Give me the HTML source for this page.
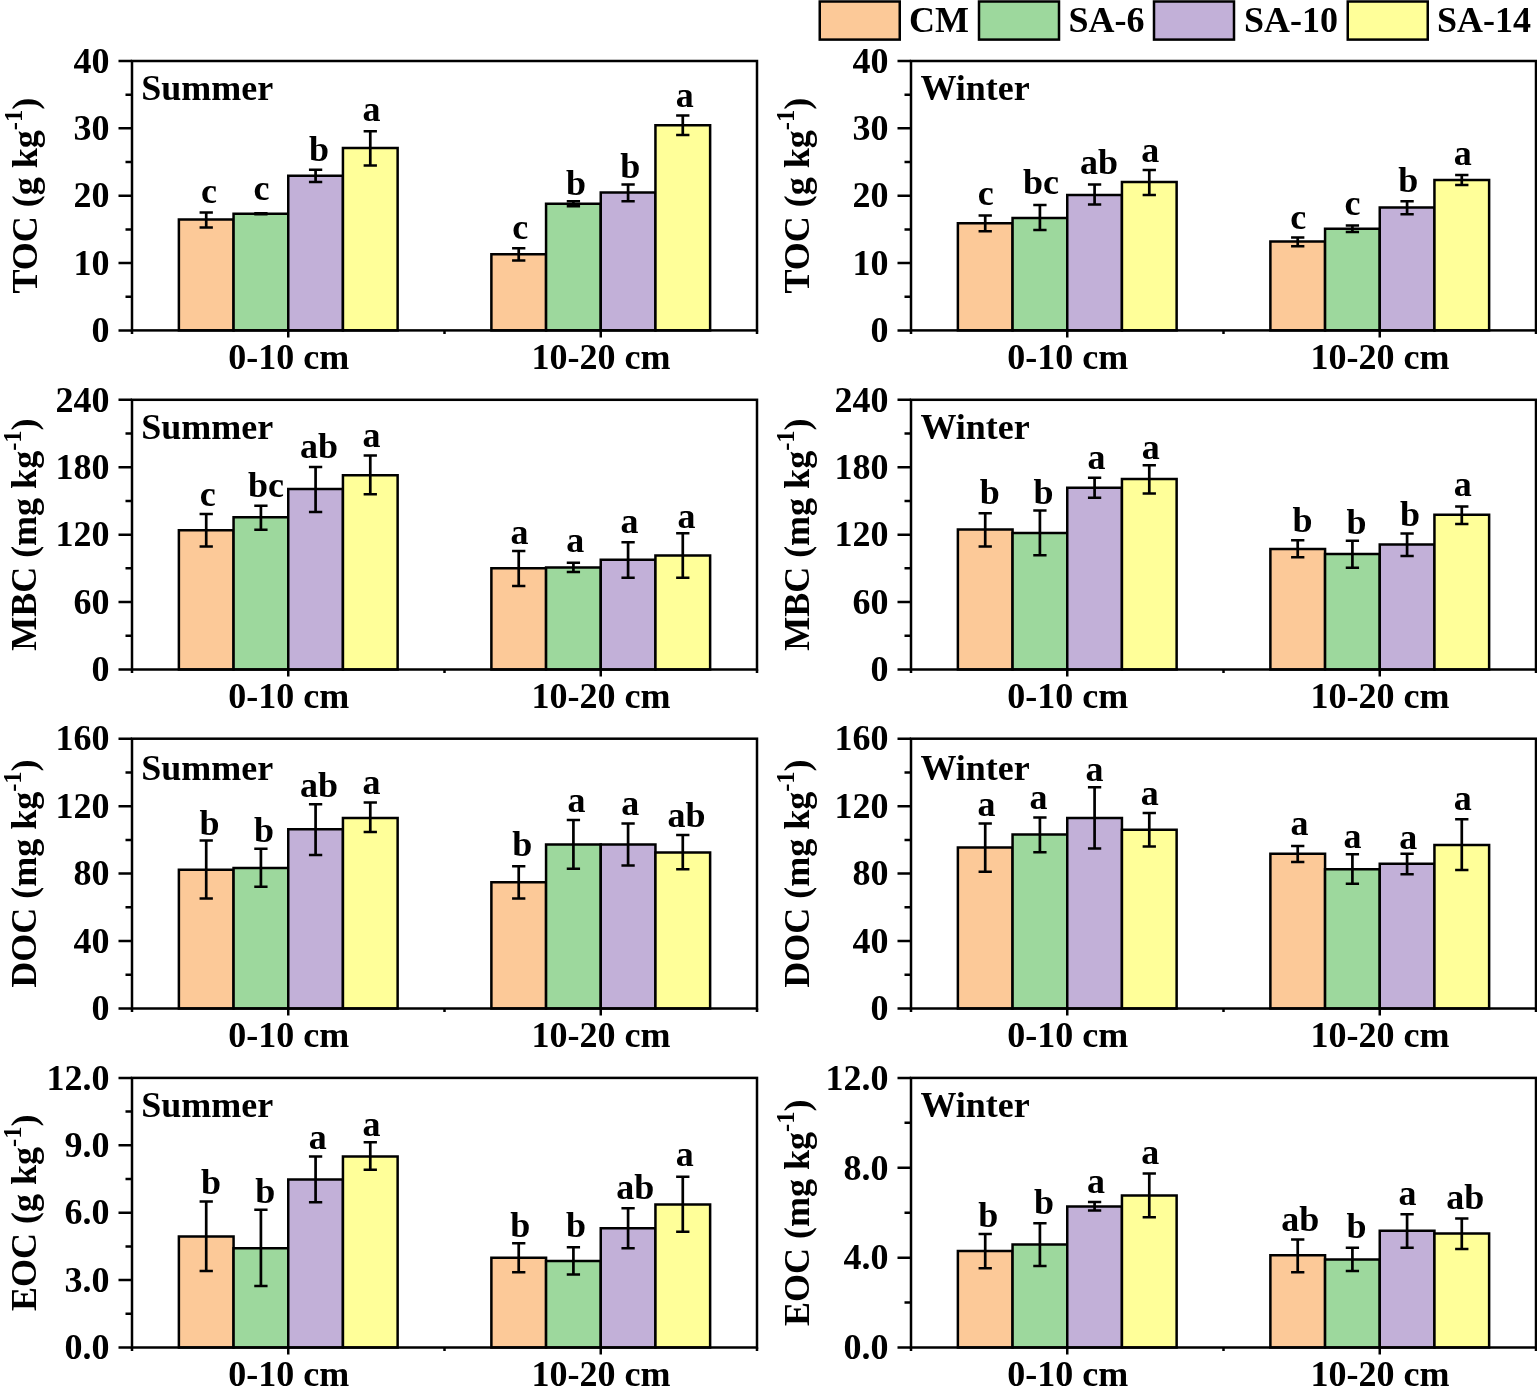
<!DOCTYPE html>
<html lang="en"><head><meta charset="utf-8"><title>Soil organic carbon fractions</title>
<style>html,body{margin:0;padding:0;background:#fff}svg{display:block}</style></head>
<body>
<svg width="1537" height="1398" viewBox="0 0 1537 1398" font-family='"Liberation Serif", "Times New Roman", serif' font-weight="bold" font-size="36" fill="#000">
<rect x="0" y="0" width="1537" height="1398" fill="#fff"/>
<rect x="819.75" y="1.5" width="80" height="38.1" fill="#FCC998" stroke="#000" stroke-width="2.5"/>
<text x="909" y="32">CM</text>
<rect x="979" y="1.5" width="80" height="38.1" fill="#9DD89D" stroke="#000" stroke-width="2.5"/>
<text x="1068.5" y="32">SA-6</text>
<rect x="1154" y="1.5" width="80" height="38.1" fill="#C2B0D8" stroke="#000" stroke-width="2.5"/>
<text x="1244" y="32">SA-10</text>
<rect x="1347.75" y="1.5" width="80" height="38.1" fill="#FFFF99" stroke="#000" stroke-width="2.5"/>
<text x="1437" y="32">SA-14</text>
<g>
<rect x="178.88" y="219.5" width="54.69" height="110.9" fill="#FCC998" stroke="#000" stroke-width="2.5"/>
<rect x="233.56" y="213.75" width="54.69" height="116.65" fill="#9DD89D" stroke="#000" stroke-width="2.5"/>
<rect x="288.25" y="175.75" width="54.69" height="154.65" fill="#C2B0D8" stroke="#000" stroke-width="2.5"/>
<rect x="342.94" y="148" width="54.69" height="182.4" fill="#FFFF99" stroke="#000" stroke-width="2.5"/>
<rect x="491.38" y="254.25" width="54.69" height="76.15" fill="#FCC998" stroke="#000" stroke-width="2.5"/>
<rect x="546.06" y="203.75" width="54.69" height="126.65" fill="#9DD89D" stroke="#000" stroke-width="2.5"/>
<rect x="600.75" y="192.5" width="54.69" height="137.9" fill="#C2B0D8" stroke="#000" stroke-width="2.5"/>
<rect x="655.44" y="125.25" width="54.69" height="205.15" fill="#FFFF99" stroke="#000" stroke-width="2.5"/>
<path d="M206.22 212.5V227.5M199.57 212.5H212.87M199.57 227.5H212.87" fill="none" stroke="#000" stroke-width="2.7"/>
<text x="209.05" y="203" text-anchor="middle">c</text>
<path d="M260.91 213.25V214.25M254.26 213.25H267.56M254.26 214.25H267.56" fill="none" stroke="#000" stroke-width="2.7"/>
<text x="261.55" y="200" text-anchor="middle">c</text>
<path d="M315.59 169.75V182M308.94 169.75H322.24M308.94 182H322.24" fill="none" stroke="#000" stroke-width="2.7"/>
<text x="319.05" y="161" text-anchor="middle">b</text>
<path d="M370.28 131.25V165.5M363.63 131.25H376.93M363.63 165.5H376.93" fill="none" stroke="#000" stroke-width="2.7"/>
<text x="371.55" y="121" text-anchor="middle">a</text>
<path d="M518.72 248.25V260.5M512.07 248.25H525.37M512.07 260.5H525.37" fill="none" stroke="#000" stroke-width="2.7"/>
<text x="520.3" y="239" text-anchor="middle">c</text>
<path d="M573.41 201.25V206.25M566.76 201.25H580.06M566.76 206.25H580.06" fill="none" stroke="#000" stroke-width="2.7"/>
<text x="576.05" y="194.75" text-anchor="middle">b</text>
<path d="M628.09 184.5V201.25M621.44 184.5H634.74M621.44 201.25H634.74" fill="none" stroke="#000" stroke-width="2.7"/>
<text x="630.3" y="178" text-anchor="middle">b</text>
<path d="M682.78 115.5V135M676.13 115.5H689.43M676.13 135H689.43" fill="none" stroke="#000" stroke-width="2.7"/>
<text x="684.8" y="107.25" text-anchor="middle">a</text>
<rect x="132" y="61" width="625" height="269.4" fill="none" stroke="#000" stroke-width="2.5"/>
<text x="109.5" y="342.15" text-anchor="end">0</text>
<text x="109.5" y="274.8" text-anchor="end">10</text>
<text x="109.5" y="207.45" text-anchor="end">20</text>
<text x="109.5" y="140.1" text-anchor="end">30</text>
<text x="109.5" y="72.75" text-anchor="end">40</text>
<path d="M118.5 330.4H132M125.5 296.72H132M118.5 263.05H132M125.5 229.38H132M118.5 195.7H132M125.5 162.02H132M118.5 128.35H132M125.5 94.68H132M118.5 61H132M288.25 330.4V337.4M600.75 330.4V337.4M132 330.4V333.9M444.5 330.4V333.9M757 330.4V333.9" fill="none" stroke="#000" stroke-width="2.5"/>
<text x="288.75" y="368.65" text-anchor="middle">0-10 cm</text>
<text x="600.95" y="368.65" text-anchor="middle">10-20 cm</text>
<text x="141.2" y="100.4">Summer</text>
<text transform="translate(36.5 195.7) rotate(-90)" text-anchor="middle">TOC (g kg<tspan font-size="24.5" dy="-15">-1</tspan><tspan dy="15">)</tspan></text>
</g>
<g>
<rect x="957.88" y="223.25" width="54.69" height="107.15" fill="#FCC998" stroke="#000" stroke-width="2.5"/>
<rect x="1012.56" y="218" width="54.69" height="112.4" fill="#9DD89D" stroke="#000" stroke-width="2.5"/>
<rect x="1067.25" y="195" width="54.69" height="135.4" fill="#C2B0D8" stroke="#000" stroke-width="2.5"/>
<rect x="1121.94" y="182" width="54.69" height="148.4" fill="#FFFF99" stroke="#000" stroke-width="2.5"/>
<rect x="1270.38" y="241.5" width="54.69" height="88.9" fill="#FCC998" stroke="#000" stroke-width="2.5"/>
<rect x="1325.06" y="228.75" width="54.69" height="101.65" fill="#9DD89D" stroke="#000" stroke-width="2.5"/>
<rect x="1379.75" y="207.5" width="54.69" height="122.9" fill="#C2B0D8" stroke="#000" stroke-width="2.5"/>
<rect x="1434.44" y="180" width="54.69" height="150.4" fill="#FFFF99" stroke="#000" stroke-width="2.5"/>
<path d="M985.22 215.5V231.25M978.57 215.5H991.87M978.57 231.25H991.87" fill="none" stroke="#000" stroke-width="2.7"/>
<text x="985.8" y="204.75" text-anchor="middle">c</text>
<path d="M1039.91 205V230M1033.26 205H1046.56M1033.26 230H1046.56" fill="none" stroke="#000" stroke-width="2.7"/>
<text x="1041.05" y="194" text-anchor="middle">bc</text>
<path d="M1094.59 184.5V204.5M1087.94 184.5H1101.24M1087.94 204.5H1101.24" fill="none" stroke="#000" stroke-width="2.7"/>
<text x="1099.05" y="174.25" text-anchor="middle">ab</text>
<path d="M1149.28 170V195M1142.63 170H1155.93M1142.63 195H1155.93" fill="none" stroke="#000" stroke-width="2.7"/>
<text x="1150.3" y="162.25" text-anchor="middle">a</text>
<path d="M1297.72 237.5V246.25M1291.07 237.5H1304.37M1291.07 246.25H1304.37" fill="none" stroke="#000" stroke-width="2.7"/>
<text x="1298.3" y="229" text-anchor="middle">c</text>
<path d="M1352.41 225.5V232M1345.76 225.5H1359.06M1345.76 232H1359.06" fill="none" stroke="#000" stroke-width="2.7"/>
<text x="1352.55" y="215.25" text-anchor="middle">c</text>
<path d="M1407.09 201.25V214.25M1400.44 201.25H1413.74M1400.44 214.25H1413.74" fill="none" stroke="#000" stroke-width="2.7"/>
<text x="1408.3" y="191.5" text-anchor="middle">b</text>
<path d="M1461.78 175V185M1455.13 175H1468.43M1455.13 185H1468.43" fill="none" stroke="#000" stroke-width="2.7"/>
<text x="1462.8" y="165.25" text-anchor="middle">a</text>
<rect x="911" y="61" width="625" height="269.4" fill="none" stroke="#000" stroke-width="2.5"/>
<text x="888.5" y="342.15" text-anchor="end">0</text>
<text x="888.5" y="274.8" text-anchor="end">10</text>
<text x="888.5" y="207.45" text-anchor="end">20</text>
<text x="888.5" y="140.1" text-anchor="end">30</text>
<text x="888.5" y="72.75" text-anchor="end">40</text>
<path d="M897.5 330.4H911M904.5 296.72H911M897.5 263.05H911M904.5 229.38H911M897.5 195.7H911M904.5 162.02H911M897.5 128.35H911M904.5 94.68H911M897.5 61H911M1067.25 330.4V337.4M1379.75 330.4V337.4M911 330.4V333.9M1223.5 330.4V333.9M1536 330.4V333.9" fill="none" stroke="#000" stroke-width="2.5"/>
<text x="1067.75" y="368.65" text-anchor="middle">0-10 cm</text>
<text x="1379.95" y="368.65" text-anchor="middle">10-20 cm</text>
<text x="920.5" y="100.4">Winter</text>
<text transform="translate(808.75 195.7) rotate(-90)" text-anchor="middle">TOC (g kg<tspan font-size="24.5" dy="-15">-1</tspan><tspan dy="15">)</tspan></text>
</g>
<g>
<rect x="178.88" y="530.25" width="54.69" height="139.25" fill="#FCC998" stroke="#000" stroke-width="2.5"/>
<rect x="233.56" y="517.25" width="54.69" height="152.25" fill="#9DD89D" stroke="#000" stroke-width="2.5"/>
<rect x="288.25" y="489" width="54.69" height="180.5" fill="#C2B0D8" stroke="#000" stroke-width="2.5"/>
<rect x="342.94" y="475.25" width="54.69" height="194.25" fill="#FFFF99" stroke="#000" stroke-width="2.5"/>
<rect x="491.38" y="568.25" width="54.69" height="101.25" fill="#FCC998" stroke="#000" stroke-width="2.5"/>
<rect x="546.06" y="567.5" width="54.69" height="102" fill="#9DD89D" stroke="#000" stroke-width="2.5"/>
<rect x="600.75" y="559.75" width="54.69" height="109.75" fill="#C2B0D8" stroke="#000" stroke-width="2.5"/>
<rect x="655.44" y="555.5" width="54.69" height="114" fill="#FFFF99" stroke="#000" stroke-width="2.5"/>
<path d="M206.22 514V546.5M199.57 514H212.87M199.57 546.5H212.87" fill="none" stroke="#000" stroke-width="2.7"/>
<text x="207.8" y="506.25" text-anchor="middle">c</text>
<path d="M260.91 505.75V529.75M254.26 505.75H267.56M254.26 529.75H267.56" fill="none" stroke="#000" stroke-width="2.7"/>
<text x="266.05" y="496.75" text-anchor="middle">bc</text>
<path d="M315.59 467V512M308.94 467H322.24M308.94 512H322.24" fill="none" stroke="#000" stroke-width="2.7"/>
<text x="319.05" y="458.25" text-anchor="middle">ab</text>
<path d="M370.28 455.5V494.25M363.63 455.5H376.93M363.63 494.25H376.93" fill="none" stroke="#000" stroke-width="2.7"/>
<text x="371.55" y="447" text-anchor="middle">a</text>
<path d="M518.72 551V586M512.07 551H525.37M512.07 586H525.37" fill="none" stroke="#000" stroke-width="2.7"/>
<text x="519.55" y="543.75" text-anchor="middle">a</text>
<path d="M573.41 562.75V572M566.76 562.75H580.06M566.76 572H580.06" fill="none" stroke="#000" stroke-width="2.7"/>
<text x="575.3" y="552" text-anchor="middle">a</text>
<path d="M628.09 542.25V577.75M621.44 542.25H634.74M621.44 577.75H634.74" fill="none" stroke="#000" stroke-width="2.7"/>
<text x="629.55" y="533" text-anchor="middle">a</text>
<path d="M682.78 533.25V577.75M676.13 533.25H689.43M676.13 577.75H689.43" fill="none" stroke="#000" stroke-width="2.7"/>
<text x="686.55" y="528" text-anchor="middle">a</text>
<rect x="132" y="399.8" width="625" height="269.7" fill="none" stroke="#000" stroke-width="2.5"/>
<text x="109.5" y="681.25" text-anchor="end">0</text>
<text x="109.5" y="613.83" text-anchor="end">60</text>
<text x="109.5" y="546.4" text-anchor="end">120</text>
<text x="109.5" y="478.98" text-anchor="end">180</text>
<text x="109.5" y="411.55" text-anchor="end">240</text>
<path d="M118.5 669.5H132M125.5 635.79H132M118.5 602.08H132M125.5 568.36H132M118.5 534.65H132M125.5 500.94H132M118.5 467.23H132M125.5 433.51H132M118.5 399.8H132M288.25 669.5V676.5M600.75 669.5V676.5M132 669.5V673M444.5 669.5V673M757 669.5V673" fill="none" stroke="#000" stroke-width="2.5"/>
<text x="288.75" y="707.75" text-anchor="middle">0-10 cm</text>
<text x="600.95" y="707.75" text-anchor="middle">10-20 cm</text>
<text x="141.2" y="439.4">Summer</text>
<text transform="translate(35.5 534.65) rotate(-90)" text-anchor="middle">MBC (mg kg<tspan font-size="24.5" dy="-15">-1</tspan><tspan dy="15">)</tspan></text>
</g>
<g>
<rect x="957.88" y="529.5" width="54.69" height="140" fill="#FCC998" stroke="#000" stroke-width="2.5"/>
<rect x="1012.56" y="533" width="54.69" height="136.5" fill="#9DD89D" stroke="#000" stroke-width="2.5"/>
<rect x="1067.25" y="487.75" width="54.69" height="181.75" fill="#C2B0D8" stroke="#000" stroke-width="2.5"/>
<rect x="1121.94" y="479" width="54.69" height="190.5" fill="#FFFF99" stroke="#000" stroke-width="2.5"/>
<rect x="1270.38" y="549" width="54.69" height="120.5" fill="#FCC998" stroke="#000" stroke-width="2.5"/>
<rect x="1325.06" y="554" width="54.69" height="115.5" fill="#9DD89D" stroke="#000" stroke-width="2.5"/>
<rect x="1379.75" y="544.5" width="54.69" height="125" fill="#C2B0D8" stroke="#000" stroke-width="2.5"/>
<rect x="1434.44" y="514.75" width="54.69" height="154.75" fill="#FFFF99" stroke="#000" stroke-width="2.5"/>
<path d="M985.22 513.25V546.5M978.57 513.25H991.87M978.57 546.5H991.87" fill="none" stroke="#000" stroke-width="2.7"/>
<text x="989.8" y="503.75" text-anchor="middle">b</text>
<path d="M1039.91 510.5V555.25M1033.26 510.5H1046.56M1033.26 555.25H1046.56" fill="none" stroke="#000" stroke-width="2.7"/>
<text x="1043.55" y="503.75" text-anchor="middle">b</text>
<path d="M1094.59 477.75V497.75M1087.94 477.75H1101.24M1087.94 497.75H1101.24" fill="none" stroke="#000" stroke-width="2.7"/>
<text x="1096.55" y="469.25" text-anchor="middle">a</text>
<path d="M1149.28 465.25V493.5M1142.63 465.25H1155.93M1142.63 493.5H1155.93" fill="none" stroke="#000" stroke-width="2.7"/>
<text x="1150.8" y="458.75" text-anchor="middle">a</text>
<path d="M1297.72 540.25V557.25M1291.07 540.25H1304.37M1291.07 557.25H1304.37" fill="none" stroke="#000" stroke-width="2.7"/>
<text x="1302.55" y="531.75" text-anchor="middle">b</text>
<path d="M1352.41 540.75V567.75M1345.76 540.75H1359.06M1345.76 567.75H1359.06" fill="none" stroke="#000" stroke-width="2.7"/>
<text x="1356.55" y="533.75" text-anchor="middle">b</text>
<path d="M1407.09 533.5V556M1400.44 533.5H1413.74M1400.44 556H1413.74" fill="none" stroke="#000" stroke-width="2.7"/>
<text x="1410.05" y="526.25" text-anchor="middle">b</text>
<path d="M1461.78 506.5V524M1455.13 506.5H1468.43M1455.13 524H1468.43" fill="none" stroke="#000" stroke-width="2.7"/>
<text x="1462.8" y="496.25" text-anchor="middle">a</text>
<rect x="911" y="399.8" width="625" height="269.7" fill="none" stroke="#000" stroke-width="2.5"/>
<text x="888.5" y="681.25" text-anchor="end">0</text>
<text x="888.5" y="613.83" text-anchor="end">60</text>
<text x="888.5" y="546.4" text-anchor="end">120</text>
<text x="888.5" y="478.98" text-anchor="end">180</text>
<text x="888.5" y="411.55" text-anchor="end">240</text>
<path d="M897.5 669.5H911M904.5 635.79H911M897.5 602.08H911M904.5 568.36H911M897.5 534.65H911M904.5 500.94H911M897.5 467.23H911M904.5 433.51H911M897.5 399.8H911M1067.25 669.5V676.5M1379.75 669.5V676.5M911 669.5V673M1223.5 669.5V673M1536 669.5V673" fill="none" stroke="#000" stroke-width="2.5"/>
<text x="1067.75" y="707.75" text-anchor="middle">0-10 cm</text>
<text x="1379.95" y="707.75" text-anchor="middle">10-20 cm</text>
<text x="920.5" y="439.4">Winter</text>
<text transform="translate(808.75 534.65) rotate(-90)" text-anchor="middle">MBC (mg kg<tspan font-size="24.5" dy="-15">-1</tspan><tspan dy="15">)</tspan></text>
</g>
<g>
<rect x="178.88" y="869.75" width="54.69" height="138.75" fill="#FCC998" stroke="#000" stroke-width="2.5"/>
<rect x="233.56" y="868" width="54.69" height="140.5" fill="#9DD89D" stroke="#000" stroke-width="2.5"/>
<rect x="288.25" y="829.25" width="54.69" height="179.25" fill="#C2B0D8" stroke="#000" stroke-width="2.5"/>
<rect x="342.94" y="818" width="54.69" height="190.5" fill="#FFFF99" stroke="#000" stroke-width="2.5"/>
<rect x="491.38" y="882.25" width="54.69" height="126.25" fill="#FCC998" stroke="#000" stroke-width="2.5"/>
<rect x="546.06" y="844.5" width="54.69" height="164" fill="#9DD89D" stroke="#000" stroke-width="2.5"/>
<rect x="600.75" y="844.5" width="54.69" height="164" fill="#C2B0D8" stroke="#000" stroke-width="2.5"/>
<rect x="655.44" y="852.5" width="54.69" height="156" fill="#FFFF99" stroke="#000" stroke-width="2.5"/>
<path d="M206.22 840.5V898.5M199.57 840.5H212.87M199.57 898.5H212.87" fill="none" stroke="#000" stroke-width="2.7"/>
<text x="209.55" y="834.75" text-anchor="middle">b</text>
<path d="M260.91 848.75V886.75M254.26 848.75H267.56M254.26 886.75H267.56" fill="none" stroke="#000" stroke-width="2.7"/>
<text x="264.05" y="841.5" text-anchor="middle">b</text>
<path d="M315.59 804.25V855M308.94 804.25H322.24M308.94 855H322.24" fill="none" stroke="#000" stroke-width="2.7"/>
<text x="319.05" y="797.25" text-anchor="middle">ab</text>
<path d="M370.28 802.5V832M363.63 802.5H376.93M363.63 832H376.93" fill="none" stroke="#000" stroke-width="2.7"/>
<text x="371.55" y="793.5" text-anchor="middle">a</text>
<path d="M518.72 866.25V898.5M512.07 866.25H525.37M512.07 898.5H525.37" fill="none" stroke="#000" stroke-width="2.7"/>
<text x="522.3" y="855.75" text-anchor="middle">b</text>
<path d="M573.41 820V868.75M566.76 820H580.06M566.76 868.75H580.06" fill="none" stroke="#000" stroke-width="2.7"/>
<text x="576.55" y="811.5" text-anchor="middle">a</text>
<path d="M628.09 823.5V865.5M621.44 823.5H634.74M621.44 865.5H634.74" fill="none" stroke="#000" stroke-width="2.7"/>
<text x="630.3" y="814.75" text-anchor="middle">a</text>
<path d="M682.78 835V869.25M676.13 835H689.43M676.13 869.25H689.43" fill="none" stroke="#000" stroke-width="2.7"/>
<text x="686.55" y="826.5" text-anchor="middle">ab</text>
<rect x="132" y="738.7" width="625" height="269.8" fill="none" stroke="#000" stroke-width="2.5"/>
<text x="109.5" y="1020.25" text-anchor="end">0</text>
<text x="109.5" y="952.8" text-anchor="end">40</text>
<text x="109.5" y="885.35" text-anchor="end">80</text>
<text x="109.5" y="817.9" text-anchor="end">120</text>
<text x="109.5" y="750.45" text-anchor="end">160</text>
<path d="M118.5 1008.5H132M125.5 974.77H132M118.5 941.05H132M125.5 907.33H132M118.5 873.6H132M125.5 839.88H132M118.5 806.15H132M125.5 772.43H132M118.5 738.7H132M288.25 1008.5V1015.5M600.75 1008.5V1015.5M132 1008.5V1012M444.5 1008.5V1012M757 1008.5V1012" fill="none" stroke="#000" stroke-width="2.5"/>
<text x="288.75" y="1046.75" text-anchor="middle">0-10 cm</text>
<text x="600.95" y="1046.75" text-anchor="middle">10-20 cm</text>
<text x="141.2" y="779.65">Summer</text>
<text transform="translate(35.5 873.6) rotate(-90)" text-anchor="middle">DOC (mg kg<tspan font-size="24.5" dy="-15">-1</tspan><tspan dy="15">)</tspan></text>
</g>
<g>
<rect x="957.88" y="847.5" width="54.69" height="161" fill="#FCC998" stroke="#000" stroke-width="2.5"/>
<rect x="1012.56" y="834.5" width="54.69" height="174" fill="#9DD89D" stroke="#000" stroke-width="2.5"/>
<rect x="1067.25" y="818" width="54.69" height="190.5" fill="#C2B0D8" stroke="#000" stroke-width="2.5"/>
<rect x="1121.94" y="829.75" width="54.69" height="178.75" fill="#FFFF99" stroke="#000" stroke-width="2.5"/>
<rect x="1270.38" y="853.75" width="54.69" height="154.75" fill="#FCC998" stroke="#000" stroke-width="2.5"/>
<rect x="1325.06" y="869.25" width="54.69" height="139.25" fill="#9DD89D" stroke="#000" stroke-width="2.5"/>
<rect x="1379.75" y="863.75" width="54.69" height="144.75" fill="#C2B0D8" stroke="#000" stroke-width="2.5"/>
<rect x="1434.44" y="845" width="54.69" height="163.5" fill="#FFFF99" stroke="#000" stroke-width="2.5"/>
<path d="M985.22 823.5V871.75M978.57 823.5H991.87M978.57 871.75H991.87" fill="none" stroke="#000" stroke-width="2.7"/>
<text x="986.55" y="816" text-anchor="middle">a</text>
<path d="M1039.91 817.5V852.25M1033.26 817.5H1046.56M1033.26 852.25H1046.56" fill="none" stroke="#000" stroke-width="2.7"/>
<text x="1038.55" y="809" text-anchor="middle">a</text>
<path d="M1094.59 787.25V848.5M1087.94 787.25H1101.24M1087.94 848.5H1101.24" fill="none" stroke="#000" stroke-width="2.7"/>
<text x="1094.55" y="780.75" text-anchor="middle">a</text>
<path d="M1149.28 813V846.5M1142.63 813H1155.93M1142.63 846.5H1155.93" fill="none" stroke="#000" stroke-width="2.7"/>
<text x="1149.8" y="804.75" text-anchor="middle">a</text>
<path d="M1297.72 846V862M1291.07 846H1304.37M1291.07 862H1304.37" fill="none" stroke="#000" stroke-width="2.7"/>
<text x="1299.55" y="835.25" text-anchor="middle">a</text>
<path d="M1352.41 854.25V883.75M1345.76 854.25H1359.06M1345.76 883.75H1359.06" fill="none" stroke="#000" stroke-width="2.7"/>
<text x="1352.55" y="847.75" text-anchor="middle">a</text>
<path d="M1407.09 853.75V874.25M1400.44 853.75H1413.74M1400.44 874.25H1413.74" fill="none" stroke="#000" stroke-width="2.7"/>
<text x="1408.3" y="849" text-anchor="middle">a</text>
<path d="M1461.78 819.25V870M1455.13 819.25H1468.43M1455.13 870H1468.43" fill="none" stroke="#000" stroke-width="2.7"/>
<text x="1462.8" y="810.25" text-anchor="middle">a</text>
<rect x="911" y="738.7" width="625" height="269.8" fill="none" stroke="#000" stroke-width="2.5"/>
<text x="888.5" y="1020.25" text-anchor="end">0</text>
<text x="888.5" y="952.8" text-anchor="end">40</text>
<text x="888.5" y="885.35" text-anchor="end">80</text>
<text x="888.5" y="817.9" text-anchor="end">120</text>
<text x="888.5" y="750.45" text-anchor="end">160</text>
<path d="M897.5 1008.5H911M904.5 974.77H911M897.5 941.05H911M904.5 907.33H911M897.5 873.6H911M904.5 839.88H911M897.5 806.15H911M904.5 772.43H911M897.5 738.7H911M1067.25 1008.5V1015.5M1379.75 1008.5V1015.5M911 1008.5V1012M1223.5 1008.5V1012M1536 1008.5V1012" fill="none" stroke="#000" stroke-width="2.5"/>
<text x="1067.75" y="1046.75" text-anchor="middle">0-10 cm</text>
<text x="1379.95" y="1046.75" text-anchor="middle">10-20 cm</text>
<text x="920.5" y="779.65">Winter</text>
<text transform="translate(808.75 873.6) rotate(-90)" text-anchor="middle">DOC (mg kg<tspan font-size="24.5" dy="-15">-1</tspan><tspan dy="15">)</tspan></text>
</g>
<g>
<rect x="178.88" y="1236.5" width="54.69" height="111" fill="#FCC998" stroke="#000" stroke-width="2.5"/>
<rect x="233.56" y="1248.25" width="54.69" height="99.25" fill="#9DD89D" stroke="#000" stroke-width="2.5"/>
<rect x="288.25" y="1179.5" width="54.69" height="168" fill="#C2B0D8" stroke="#000" stroke-width="2.5"/>
<rect x="342.94" y="1156.5" width="54.69" height="191" fill="#FFFF99" stroke="#000" stroke-width="2.5"/>
<rect x="491.38" y="1257.75" width="54.69" height="89.75" fill="#FCC998" stroke="#000" stroke-width="2.5"/>
<rect x="546.06" y="1261" width="54.69" height="86.5" fill="#9DD89D" stroke="#000" stroke-width="2.5"/>
<rect x="600.75" y="1228.25" width="54.69" height="119.25" fill="#C2B0D8" stroke="#000" stroke-width="2.5"/>
<rect x="655.44" y="1204.5" width="54.69" height="143" fill="#FFFF99" stroke="#000" stroke-width="2.5"/>
<path d="M206.22 1201.5V1271M199.57 1201.5H212.87M199.57 1271H212.87" fill="none" stroke="#000" stroke-width="2.7"/>
<text x="211.05" y="1194.25" text-anchor="middle">b</text>
<path d="M260.91 1209.75V1286M254.26 1209.75H267.56M254.26 1286H267.56" fill="none" stroke="#000" stroke-width="2.7"/>
<text x="265.3" y="1202.5" text-anchor="middle">b</text>
<path d="M315.59 1156.5V1202.25M308.94 1156.5H322.24M308.94 1202.25H322.24" fill="none" stroke="#000" stroke-width="2.7"/>
<text x="317.8" y="1148.75" text-anchor="middle">a</text>
<path d="M370.28 1142.25V1169.75M363.63 1142.25H376.93M363.63 1169.75H376.93" fill="none" stroke="#000" stroke-width="2.7"/>
<text x="371.55" y="1135.75" text-anchor="middle">a</text>
<path d="M518.72 1243.25V1272.25M512.07 1243.25H525.37M512.07 1272.25H525.37" fill="none" stroke="#000" stroke-width="2.7"/>
<text x="520.3" y="1236.75" text-anchor="middle">b</text>
<path d="M573.41 1247.25V1274.5M566.76 1247.25H580.06M566.76 1274.5H580.06" fill="none" stroke="#000" stroke-width="2.7"/>
<text x="576.05" y="1236.75" text-anchor="middle">b</text>
<path d="M628.09 1208.25V1248.25M621.44 1208.25H634.74M621.44 1248.25H634.74" fill="none" stroke="#000" stroke-width="2.7"/>
<text x="635.3" y="1199.25" text-anchor="middle">ab</text>
<path d="M682.78 1176.75V1231.75M676.13 1176.75H689.43M676.13 1231.75H689.43" fill="none" stroke="#000" stroke-width="2.7"/>
<text x="684.8" y="1166.25" text-anchor="middle">a</text>
<rect x="132" y="1077.9" width="625" height="269.6" fill="none" stroke="#000" stroke-width="2.5"/>
<text x="109.5" y="1359.25" text-anchor="end">0.0</text>
<text x="109.5" y="1291.85" text-anchor="end">3.0</text>
<text x="109.5" y="1224.45" text-anchor="end">6.0</text>
<text x="109.5" y="1157.05" text-anchor="end">9.0</text>
<text x="109.5" y="1089.65" text-anchor="end">12.0</text>
<path d="M118.5 1347.5H132M125.5 1313.8H132M118.5 1280.1H132M125.5 1246.4H132M118.5 1212.7H132M125.5 1179H132M118.5 1145.3H132M125.5 1111.6H132M118.5 1077.9H132M288.25 1347.5V1354.5M600.75 1347.5V1354.5M132 1347.5V1351M444.5 1347.5V1351M757 1347.5V1351" fill="none" stroke="#000" stroke-width="2.5"/>
<text x="288.75" y="1385.75" text-anchor="middle">0-10 cm</text>
<text x="600.95" y="1385.75" text-anchor="middle">10-20 cm</text>
<text x="141.2" y="1117.4">Summer</text>
<text transform="translate(35.5 1212.7) rotate(-90)" text-anchor="middle">EOC (g kg<tspan font-size="24.5" dy="-15">-1</tspan><tspan dy="15">)</tspan></text>
</g>
<g>
<rect x="957.88" y="1251" width="54.69" height="96.5" fill="#FCC998" stroke="#000" stroke-width="2.5"/>
<rect x="1012.56" y="1244.5" width="54.69" height="103" fill="#9DD89D" stroke="#000" stroke-width="2.5"/>
<rect x="1067.25" y="1206.5" width="54.69" height="141" fill="#C2B0D8" stroke="#000" stroke-width="2.5"/>
<rect x="1121.94" y="1195.5" width="54.69" height="152" fill="#FFFF99" stroke="#000" stroke-width="2.5"/>
<rect x="1270.38" y="1255.25" width="54.69" height="92.25" fill="#FCC998" stroke="#000" stroke-width="2.5"/>
<rect x="1325.06" y="1259.5" width="54.69" height="88" fill="#9DD89D" stroke="#000" stroke-width="2.5"/>
<rect x="1379.75" y="1230.75" width="54.69" height="116.75" fill="#C2B0D8" stroke="#000" stroke-width="2.5"/>
<rect x="1434.44" y="1233.5" width="54.69" height="114" fill="#FFFF99" stroke="#000" stroke-width="2.5"/>
<path d="M985.22 1234V1268.25M978.57 1234H991.87M978.57 1268.25H991.87" fill="none" stroke="#000" stroke-width="2.7"/>
<text x="988.3" y="1227" text-anchor="middle">b</text>
<path d="M1039.91 1223.25V1266M1033.26 1223.25H1046.56M1033.26 1266H1046.56" fill="none" stroke="#000" stroke-width="2.7"/>
<text x="1044.05" y="1214.25" text-anchor="middle">b</text>
<path d="M1094.59 1202V1210.5M1087.94 1202H1101.24M1087.94 1210.5H1101.24" fill="none" stroke="#000" stroke-width="2.7"/>
<text x="1096.05" y="1192.5" text-anchor="middle">a</text>
<path d="M1149.28 1173.5V1217.25M1142.63 1173.5H1155.93M1142.63 1217.25H1155.93" fill="none" stroke="#000" stroke-width="2.7"/>
<text x="1150.3" y="1163.75" text-anchor="middle">a</text>
<path d="M1297.72 1239.5V1272.25M1291.07 1239.5H1304.37M1291.07 1272.25H1304.37" fill="none" stroke="#000" stroke-width="2.7"/>
<text x="1300.3" y="1230.5" text-anchor="middle">ab</text>
<path d="M1352.41 1247.75V1271M1345.76 1247.75H1359.06M1345.76 1271H1359.06" fill="none" stroke="#000" stroke-width="2.7"/>
<text x="1356.55" y="1237.5" text-anchor="middle">b</text>
<path d="M1407.09 1214.25V1247.75M1400.44 1214.25H1413.74M1400.44 1247.75H1413.74" fill="none" stroke="#000" stroke-width="2.7"/>
<text x="1407.55" y="1205" text-anchor="middle">a</text>
<path d="M1461.78 1218.5V1249M1455.13 1218.5H1468.43M1455.13 1249H1468.43" fill="none" stroke="#000" stroke-width="2.7"/>
<text x="1465.3" y="1209.25" text-anchor="middle">ab</text>
<rect x="911" y="1077.9" width="625" height="269.6" fill="none" stroke="#000" stroke-width="2.5"/>
<text x="888.5" y="1359.25" text-anchor="end">0.0</text>
<text x="888.5" y="1269.38" text-anchor="end">4.0</text>
<text x="888.5" y="1179.52" text-anchor="end">8.0</text>
<text x="888.5" y="1089.65" text-anchor="end">12.0</text>
<path d="M897.5 1347.5H911M904.5 1302.57H911M897.5 1257.63H911M904.5 1212.7H911M897.5 1167.77H911M904.5 1122.83H911M897.5 1077.9H911M1067.25 1347.5V1354.5M1379.75 1347.5V1354.5M911 1347.5V1351M1223.5 1347.5V1351M1536 1347.5V1351" fill="none" stroke="#000" stroke-width="2.5"/>
<text x="1067.75" y="1385.75" text-anchor="middle">0-10 cm</text>
<text x="1379.95" y="1385.75" text-anchor="middle">10-20 cm</text>
<text x="920.5" y="1117.4">Winter</text>
<text transform="translate(808.75 1212.7) rotate(-90)" text-anchor="middle">EOC (mg kg<tspan font-size="24.5" dy="-15">-1</tspan><tspan dy="15">)</tspan></text>
</g>
</svg>
</body></html>
